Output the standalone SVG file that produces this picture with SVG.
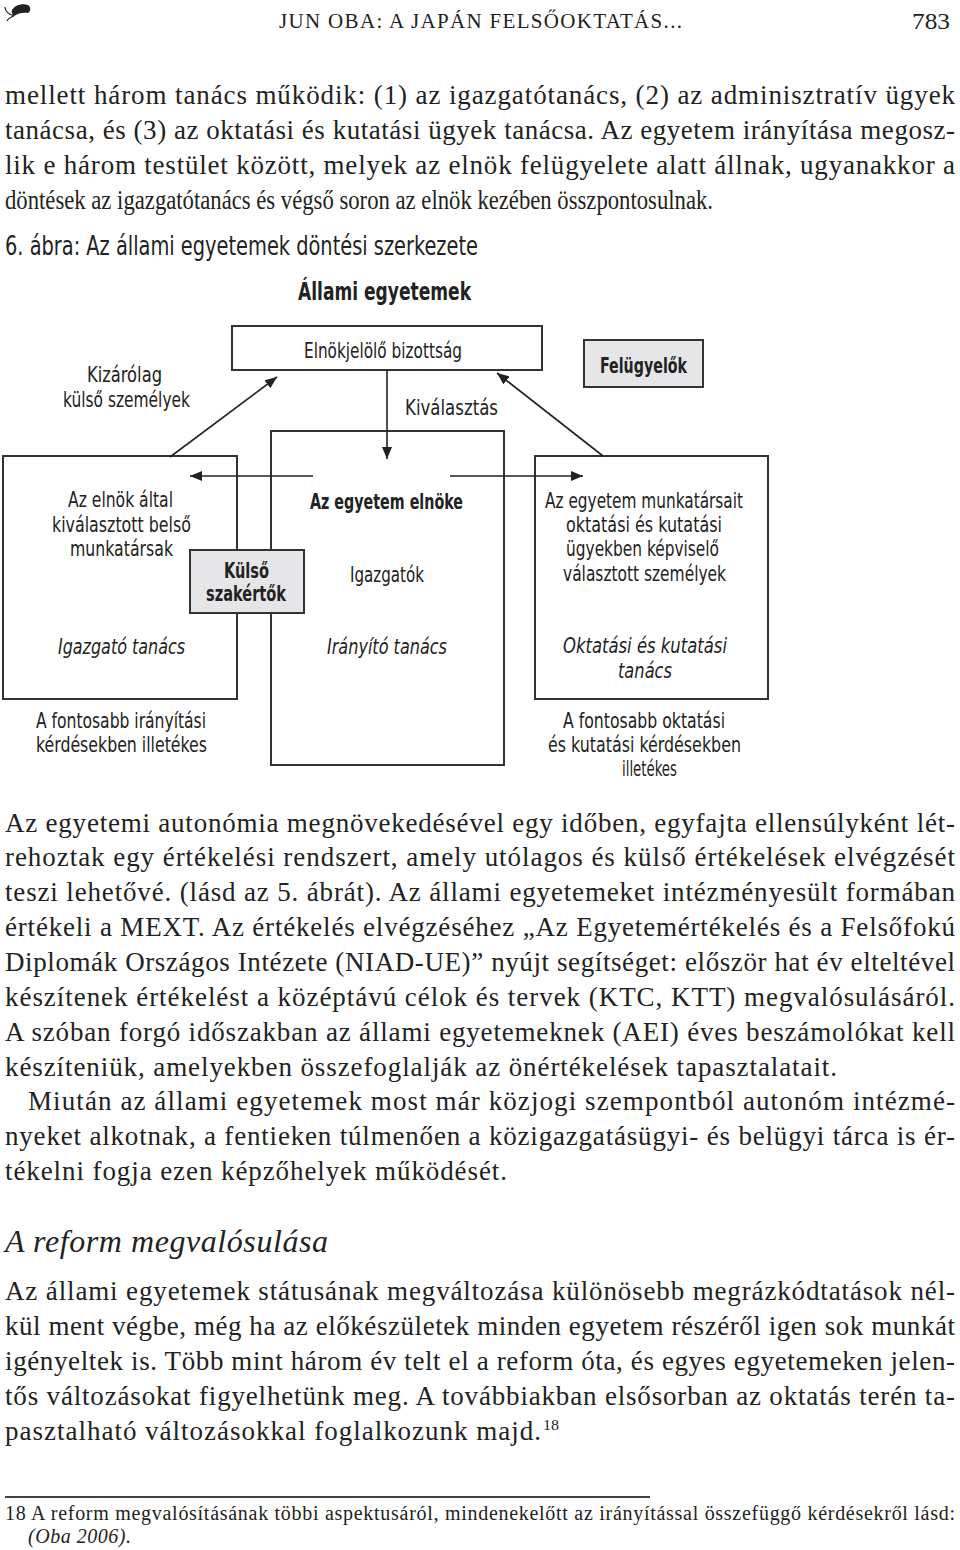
<svg xmlns="http://www.w3.org/2000/svg" width="960" height="1550" viewBox="0 0 960 1550">
<style>
.bg{fill:#ffffff}
.box{fill:#ffffff;stroke:#333333;stroke-width:2}
.gbox{fill:#e6e6e8;stroke:#333333;stroke-width:2}
.d{font-family:"Liberation Sans Narrow","DejaVu Sans Condensed","Liberation Sans",sans-serif;font-size:22px;fill:#222222}
.db{font-family:"Liberation Sans Narrow","DejaVu Sans Condensed","Liberation Sans",sans-serif;font-size:22px;font-weight:bold;fill:#222222}
.di{font-family:"Liberation Sans Narrow","DejaVu Sans Condensed","Liberation Sans",sans-serif;font-size:22px;font-style:italic;fill:#222222}
.t{font-family:"Liberation Serif","DejaVu Serif",serif;font-size:27px;fill:#222222}
.ts{font-family:"Liberation Serif","DejaVu Serif",serif;font-size:27px;fill:#222222}
.ti{font-family:"Liberation Serif","DejaVu Serif",serif;font-style:italic;fill:#222222}
.hd{font-family:"Liberation Serif","DejaVu Serif",serif;fill:#222222}
.fn{font-family:"Liberation Serif","DejaVu Serif",serif;font-size:20px;fill:#222222}
.conn{stroke:#222222;stroke-width:1.6;fill:none}
</style>
<defs>
<marker id="ah" markerUnits="userSpaceOnUse" markerWidth="13" markerHeight="11" refX="12" refY="5" orient="auto" viewBox="0 0 13 10">
<path d="M0,0 L12,5 L0,10 z" fill="#222222"/>
</marker>
</defs>
<rect class="bg" x="0" y="0" width="960" height="1550"/>

<!-- header -->
<g id="header">
<path d="M12,10 C15,5 22,3 28,5 C31,7 31,11 28,13 C24,12 18,13 14,16 C12,14 11,12 12,10 Z" fill="#222222"/>
<path d="M14,16 C9,14 5,12 5,7 M14,16 C11,17 8,19 7,21" stroke="#222222" stroke-width="1.2" fill="none"/>
<text class="hd" x="279" y="28" style="font-size:21px" textLength="403" lengthAdjust="spacing">JUN OBA: A JAPÁN FELSŐOKTATÁS...</text>
<text class="hd" x="912" y="29" style="font-size:24px" textLength="38" lengthAdjust="spacingAndGlyphs">783</text>
</g>

<!-- body text top -->
<g id="text-top">
<text class="ts" x="5" y="104" textLength="950" lengthAdjust="spacing">mellett három tanács működik: (1) az igazgatótanács, (2) az adminisztratív ügyek</text>
<text class="ts" x="5" y="139" textLength="950" lengthAdjust="spacing">tanácsa, és (3) az oktatási és kutatási ügyek tanácsa. Az egyetem irányítása megosz-</text>
<text class="ts" x="5" y="174" textLength="950" lengthAdjust="spacing">lik e három testület között, melyek az elnök felügyelete alatt állnak, ugyanakkor a</text>
<text class="ts" x="5" y="209" textLength="708" lengthAdjust="spacingAndGlyphs">döntések az igazgatótanács és végső soron az elnök kezében összpontosulnak.</text>
</g>

<!-- diagram titles -->
<g id="caption">
<text class="d" x="5" y="255" style="font-size:26px" textLength="473" lengthAdjust="spacingAndGlyphs">6. ábra: Az állami egyetemek döntési szerkezete</text>
</g>
<g id="title">
<text class="db" x="298" y="300" style="font-size:25px" textLength="173" lengthAdjust="spacingAndGlyphs">Állami egyetemek</text>
</g>

<!-- nodes -->
<g id="node-elnokjelolo">
<rect class="box" x="232" y="326" width="310" height="44"/>
<text class="d" x="304" y="358" textLength="158" lengthAdjust="spacingAndGlyphs">Elnökjelölő bizottság</text>
</g>
<g id="node-felugyelok">
<rect class="gbox" x="584" y="340" width="119" height="47"/>
<text class="db" x="600" y="373" textLength="87" lengthAdjust="spacingAndGlyphs">Felügyelők</text>
</g>
<g id="label-kizarolag">
<text class="d" x="87" y="382" textLength="75" lengthAdjust="spacingAndGlyphs">Kizárólag</text>
<text class="d" x="63" y="407" textLength="127" lengthAdjust="spacingAndGlyphs">külső személyek</text>
</g>
<g id="label-kivalasztas">
<text class="d" x="405" y="415" textLength="93" lengthAdjust="spacingAndGlyphs">Kiválasztás</text>
</g>

<g id="node-igazgato">
<rect class="box" x="3" y="456" width="234" height="243"/>
<text class="d" x="68" y="507" textLength="105" lengthAdjust="spacingAndGlyphs">Az elnök által</text>
<text class="d" x="52" y="532" textLength="139" lengthAdjust="spacingAndGlyphs">kiválasztott belső</text>
<text class="d" x="70" y="556" textLength="103" lengthAdjust="spacingAndGlyphs">munkatársak</text>
<text class="di" x="58" y="654" textLength="127" lengthAdjust="spacingAndGlyphs">Igazgató tanács</text>
</g>
<g id="node-elnok">
<rect class="box" x="271" y="431" width="233" height="334"/>
<text class="db" x="310" y="509" textLength="153" lengthAdjust="spacingAndGlyphs">Az egyetem elnöke</text>
<text class="d" x="350" y="582" textLength="74" lengthAdjust="spacingAndGlyphs">Igazgatók</text>
<text class="di" x="327" y="654" textLength="120" lengthAdjust="spacingAndGlyphs">Irányító tanács</text>
</g>
<g id="node-oktatasi">
<rect class="box" x="535" y="456" width="233" height="243"/>
<text class="d" x="545" y="508" textLength="198" lengthAdjust="spacingAndGlyphs">Az egyetem munkatársait</text>
<text class="d" x="566" y="532" textLength="156" lengthAdjust="spacingAndGlyphs">oktatási és kutatási</text>
<text class="d" x="566" y="556" textLength="153" lengthAdjust="spacingAndGlyphs">ügyekben képviselő</text>
<text class="d" x="563" y="581" textLength="163" lengthAdjust="spacingAndGlyphs">választott személyek</text>
<text class="di" x="563" y="653" textLength="164" lengthAdjust="spacingAndGlyphs">Oktatási és kutatási</text>
<text class="di" x="618" y="678" textLength="54" lengthAdjust="spacingAndGlyphs">tanács</text>
</g>

<!-- connectors -->
<g id="connectors">
<line class="conn" x1="170" y1="457" x2="277" y2="377" marker-end="url(#ah)"/>
<line class="conn" x1="603" y1="456" x2="497" y2="373" marker-end="url(#ah)"/>
<line class="conn" x1="387" y1="370" x2="387" y2="459" marker-end="url(#ah)"/>
<line class="conn" x1="313" y1="476" x2="190" y2="476" marker-end="url(#ah)"/>
<line class="conn" x1="450" y1="476" x2="583" y2="476" marker-end="url(#ah)"/>
</g>

<g id="node-kulso">
<rect class="gbox" x="190" y="550" width="114" height="63"/>
<text class="db" x="224" y="578" textLength="45" lengthAdjust="spacingAndGlyphs">Külső</text>
<text class="db" x="206" y="601" textLength="80" lengthAdjust="spacingAndGlyphs">szakértők</text>
</g>

<g id="label-igazgato-desc">
<text class="d" x="36" y="728" textLength="170" lengthAdjust="spacingAndGlyphs">A fontosabb irányítási</text>
<text class="d" x="36" y="752" textLength="171" lengthAdjust="spacingAndGlyphs">kérdésekben illetékes</text>
</g>
<g id="label-oktatasi-desc">
<text class="d" x="563" y="728" textLength="162" lengthAdjust="spacingAndGlyphs">A fontosabb oktatási</text>
<text class="d" x="548" y="752" textLength="193" lengthAdjust="spacingAndGlyphs">és kutatási kérdésekben</text>
<text class="d" x="622" y="776" textLength="55" lengthAdjust="spacingAndGlyphs">illetékes</text>
</g>

<!-- body text middle -->
<g id="text-middle">
<text class="t" x="5" y="832" textLength="950" lengthAdjust="spacing">Az egyetemi autonómia megnövekedésével egy időben, egyfajta ellensúlyként lét-</text>
<text class="t" x="5" y="866" textLength="950" lengthAdjust="spacing">rehoztak egy értékelési rendszert, amely utólagos és külső értékelések elvégzését</text>
<text class="t" x="5" y="901" textLength="950" lengthAdjust="spacing">teszi lehetővé. (lásd az 5. ábrát). Az állami egyetemeket intézményesült formában</text>
<text class="t" x="5" y="936" textLength="950" lengthAdjust="spacing">értékeli a MEXT. Az értékelés elvégzéséhez „Az Egyetemértékelés és a Felsőfokú</text>
<text class="t" x="5" y="971" textLength="950" lengthAdjust="spacing">Diplomák Országos Intézete (NIAD-UE)” nyújt segítséget: először hat év elteltével</text>
<text class="t" x="5" y="1006" textLength="950" lengthAdjust="spacing">készítenek értékelést a középtávú célok és tervek (KTC, KTT) megvalósulásáról.</text>
<text class="t" x="5" y="1041" textLength="950" lengthAdjust="spacing">A szóban forgó időszakban az állami egyetemeknek (AEI) éves beszámolókat kell</text>
<text class="t" x="5" y="1076" textLength="832" lengthAdjust="spacing">készíteniük, amelyekben összefoglalják az önértékelések tapasztalatait.</text>
<text class="t" x="28" y="1110" textLength="927" lengthAdjust="spacing">Miután az állami egyetemek most már közjogi szempontból autonóm intézmé-</text>
<text class="t" x="5" y="1145" textLength="950" lengthAdjust="spacing">nyeket alkotnak, a fentieken túlmenően a közigazgatásügyi- és belügyi tárca is ér-</text>
<text class="t" x="5" y="1180" textLength="502" lengthAdjust="spacing">tékelni fogja ezen képzőhelyek működését.</text>
</g>

<g id="heading">
<text class="ti" x="5" y="1252" style="font-size:32px" textLength="323" lengthAdjust="spacing">A reform megvalósulása</text>
</g>

<g id="text-bottom">
<text class="t" x="5" y="1300" textLength="950" lengthAdjust="spacing">Az állami egyetemek státusának megváltozása különösebb megrázkódtatások nél-</text>
<text class="t" x="5" y="1335" textLength="950" lengthAdjust="spacing">kül ment végbe, még ha az előkészületek minden egyetem részéről igen sok munkát</text>
<text class="t" x="5" y="1370" textLength="950" lengthAdjust="spacing">igényeltek is. Több mint három év telt el a reform óta, és egyes egyetemeken jelen-</text>
<text class="t" x="5" y="1405" textLength="950" lengthAdjust="spacing">tős változásokat figyelhetünk meg. A továbbiakban elsősorban az oktatás terén ta-</text>
<text class="t" x="5" y="1440" textLength="536" lengthAdjust="spacing">pasztalható változásokkal foglalkozunk majd.</text>
<text class="hd" x="543" y="1430" style="font-size:14px" textLength="16" lengthAdjust="spacingAndGlyphs">18</text>
</g>

<g id="footnote">
<line x1="5" y1="1497" x2="650" y2="1497" stroke="#444444" stroke-width="2"/>
<text class="fn" x="5" y="1520" textLength="950" lengthAdjust="spacing">18 A reform megvalósításának többi aspektusáról, mindenekelőtt az irányítással összefüggő kérdésekről lásd:</text>
<text class="ti" x="28" y="1543" style="font-size:20px" textLength="103" lengthAdjust="spacing">(Oba 2006).</text>
</g>
</svg>
